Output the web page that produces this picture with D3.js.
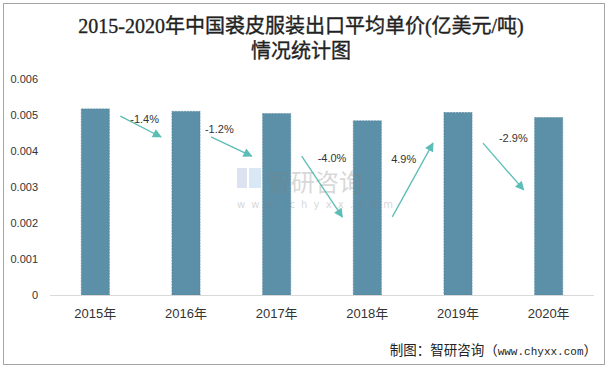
<!DOCTYPE html>
<html><head><meta charset="utf-8">
<script src="https://cdn.jsdelivr.net/npm/d3@7"></script>
<style>body{margin:0;background:#fff}svg{display:block}</style>
</head><body>
<script>
const years = ["2015年","2016年","2017年","2018年","2019年","2020年"];
const prices = [0.00517,0.00510,0.00504,0.00484,0.00507,0.00493];
const changeLabels = ["-1.4%","-1.2%","-4.0%","4.9%","-2.9%"];
const arrowLevels = [0.00497,0.00439,0.00386,0.00217,0.00422,0.00292];
const labelLevels = [0.00489,0.00461,0.00380,0.00378,0.00436];
const labelShift = [4,-12,10,-9,10];
const yTicks = [0,0.001,0.002,0.003,0.004,0.005,0.006];

const W=613,H=368;
const svg=d3.select("body").append("svg").attr("width",W).attr("height",H);
svg.append("rect").attr("x",3.5).attr("y",3.5).attr("width",601).attr("height",361)
  .attr("fill","#fff").attr("stroke","#a6a6a6").attr("stroke-width",1);

const defs=svg.append("defs");
defs.append("marker").attr("id","ah").attr("viewBox","0 0 10 10").attr("refX",9).attr("refY",5)
  .attr("markerWidth",10).attr("markerHeight",9).attr("markerUnits","userSpaceOnUse").attr("orient","auto")
  .append("path").attr("d","M0,0L10,5L0,10Z").attr("fill","#5bbdb6");

// title
const title=svg.append("text").attr("text-anchor","middle")
  .style("font-family","'Liberation Serif','Noto Sans CJK SC',serif").style("font-size","20px").style("font-weight","normal")
  .attr("fill","#222").attr("stroke","#222").attr("stroke-width",0.35);
title.append("tspan").attr("x",301).attr("y",33).text("2015-2020年中国裘皮服装出口平均单价(亿美元/吨)");
title.append("tspan").attr("x",301).attr("y",58).text("情况统计图");

const x=d3.scaleBand().domain(years).range([50,594]).paddingInner(0.69).paddingOuter(0.345);
const y=d3.scaleLinear().domain([0,0.006]).range([295,79]);

// y axis labels
svg.append("g").selectAll("text").data(yTicks).join("text")
  .attr("x",38).attr("y",d=>y(d)).attr("dy","0.35em").attr("text-anchor","end")
  .style("font-family","'Liberation Sans','DejaVu Sans',sans-serif").style("font-size","11px").attr("fill","#333")
  .text(d=>d===0?"0":d3.format(".3f")(d));

// bars
svg.append("g").selectAll("rect").data(prices).join("rect")
  .attr("x",(d,i)=>x(years[i])).attr("width",x.bandwidth())
  .attr("y",d=>y(d)).attr("height",d=>y(0)-y(d))
  .attr("fill","#5b90a8").attr("stroke","#4d7f98").attr("stroke-width",0.6).attr("stroke-dasharray","2,1");

// axis line
svg.append("line").attr("x1",50).attr("x2",594).attr("y1",y(0)+0.5).attr("y2",y(0)+0.5).attr("stroke","#d9d9d9").attr("stroke-width",1);

// x labels
svg.append("g").selectAll("text").data(years).join("text")
  .attr("x",d=>x(d)+x.bandwidth()/2).attr("y",318).attr("text-anchor","middle")
  .style("font-family","'Liberation Sans','Noto Sans CJK SC',sans-serif").style("font-size","13px").attr("fill","#333")
  .text(d=>d);

// watermark (over the bars, faint)
const wm=svg.append("g").attr("opacity",0.3);
wm.append("rect").attr("x",237).attr("y",168).attr("width",10).attr("height",20).attr("fill","#8fa3cf");
wm.append("rect").attr("x",249).attr("y",168).attr("width",12).attr("height",20).attr("fill","#7fb6dc");
wm.append("text").attr("x",267).attr("y",191).text("智研咨询").style("font-family","'Noto Sans CJK SC'").style("font-size","24px").attr("fill","#808080");
wm.append("text").attr("x",237).attr("y",208).text("w w w . c h y x x . c o m").style("font-family","'DejaVu Sans'").style("font-size","10px").style("letter-spacing","1.5px").attr("fill","#808080");

// arrows
const gap=25;
const cx=i=>x(years[i])+x.bandwidth()/2;
svg.append("g").selectAll("line").data(changeLabels).join("line")
  .attr("x1",(d,i)=>cx(i)+gap).attr("y1",(d,i)=>y(arrowLevels[i]))
  .attr("x2",(d,i)=>cx(i+1)-gap).attr("y2",(d,i)=>y(arrowLevels[i+1]))
  .attr("stroke","#5bbdb6").attr("stroke-width",1.3).attr("marker-end","url(#ah)");

svg.append("g").selectAll("text").data(changeLabels).join("text")
  .attr("x",(d,i)=>(cx(i)+cx(i+1))/2+labelShift[i]).attr("y",(d,i)=>y(labelLevels[i])).attr("dy","0.35em")
  .attr("text-anchor","middle")
  .style("font-family","'Liberation Sans','DejaVu Sans',sans-serif").style("font-size","11px").attr("fill","#333")
  .text(d=>d);

// source
const src=svg.append("text").attr("x",597).attr("y",355).attr("text-anchor","end")
  .style("font-family","'Noto Sans CJK SC',sans-serif").style("font-size","13.5px").attr("fill","#222");
src.append("tspan").text("制图：智研咨询（");
src.append("tspan").style("font-family","'Liberation Mono',monospace").style("font-size","11px").text("www.chyxx.com");
src.append("tspan").text("）");
</script>
</body></html>
